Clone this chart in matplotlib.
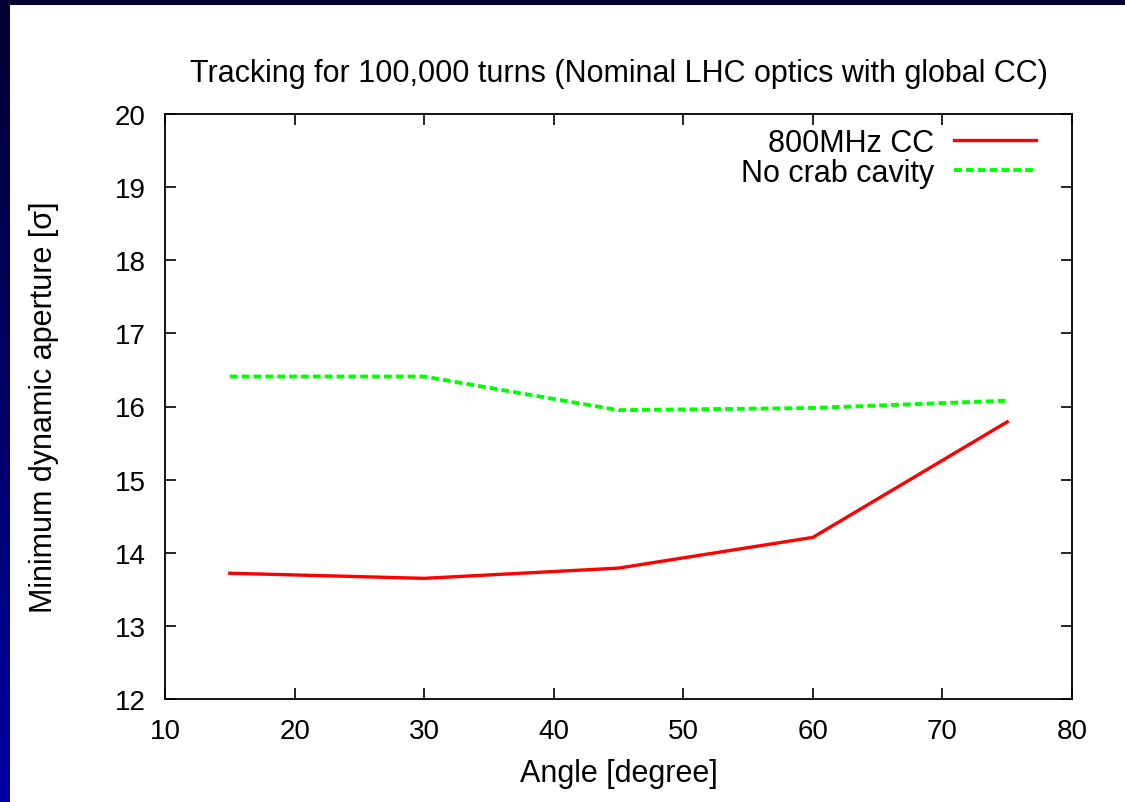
import numpy as np
import matplotlib.pyplot as plt

angle = [15, 30, 45, 60, 75]
cc_800 = [13.72, 13.65, 13.79, 14.21, 15.79]
no_crab = [16.41, 16.41, 15.95, 15.98, 16.08]

plt.rcParams['font.family'] = ['Liberation Sans', 'DejaVu Sans']
plt.rcParams['font.size'] = 20

fig = plt.figure(figsize=(11.25, 8.03), dpi=100, facecolor='white')

# dark blue slide border (top bar + left strip with gradient)
W, H = 1125, 803
bg = fig.add_axes([0, 0, 1, 1], zorder=-10)
bg.set_axis_off()
grad = np.linspace(0, 1, 200)
cols = np.zeros((200, 1, 3))
cols[:, 0, 2] = 0.19 + (0.63 - 0.19) * grad
bg.imshow(cols, extent=[0, 10, H, 0], aspect='auto')
bg.fill_between([0, W], 0, 6, color='#000030', lw=0)
bg.set_xlim(0, W)
bg.set_ylim(H, 0)

ax = fig.add_axes([165 / W, 1 - 700 / H, (1072 - 165) / W, (700 - 115) / H])
ax.plot(angle, cc_800, color='#ff0000', lw=2.4, label='800MHz CC')
ax.plot(angle, no_crab, color='#00ff00', lw=2.8, dashes=(2.0, 1.05),
        dash_capstyle='butt', label='No crab cavity')

ax.set_xlim(10, 80)
ax.set_ylim(12, 20)
ax.set_xticks(range(10, 81, 10))
ax.set_yticks(range(12, 21))
ax.tick_params(direction='in', top=True, right=True, length=8, width=1.2, pad=14)
for s in ax.spines.values():
    s.set_linewidth(1.3)

ax.set_xlabel('Angle [degree]', fontsize=22, labelpad=10)
ax.set_ylabel('Minimum dynamic aperture [σ]', fontsize=22, labelpad=40)
ax.set_title('Tracking for 100,000 turns (Nominal LHC optics with global CC)',
             fontsize=22, pad=24)

leg = ax.legend(loc='upper right', frameon=False, markerfirst=False, fontsize=22,
                handlelength=2.7, handletextpad=0.65, labelspacing=0.0,
                borderpad=0, borderaxespad=0,
                bbox_to_anchor=(1 - 36 / 907, 1 - 14 / 585))
for t in leg.get_texts():
    t.set_ha('right')

fig.savefig('out.png', dpi=100, facecolor='white')
